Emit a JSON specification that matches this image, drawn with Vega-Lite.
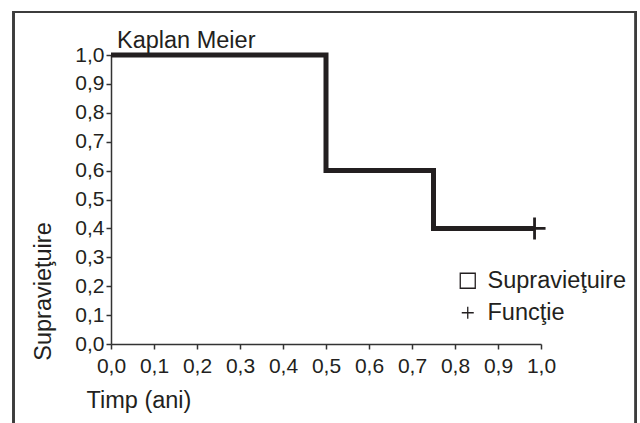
{
  "$schema": "https://vega.github.io/schema/vega-lite/v6.json",
  "width": 430,
  "height": 289,
  "autosize": {"type": "none"},
  "padding": {"left": 111, "top": 55, "right": 99, "bottom": 79},
  "background": "white",
  "title": {
    "text": "Kaplan Meier",
    "anchor": "start",
    "frame": "group",
    "dx": 6,
    "offset": 0,
    "dy": 61,
    "baseline": "alphabetic",
    "font": "Liberation Sans",
    "fontSize": 23.5,
    "fontWeight": "normal",
    "color": "#231f20"
  },
  "config": {
    "view": {"stroke": null},
    "font": "Liberation Sans",
    "axis": {
      "labelFont": "Liberation Sans",
      "labelFontSize": 21,
      "labelColor": "#231f20",
      "titleFont": "Liberation Sans",
      "titleFontSize": 23.5,
      "titleFontWeight": "normal",
      "titleColor": "#231f20",
      "domainColor": "#333333",
      "domainWidth": 1.5,
      "tickColor": "#333333",
      "tickWidth": 1.5,
      "tickSize": 5,
      "grid": false
    },
    "axisX": {
      "title": "Timp (ani)",
      "values": [0, 0.1, 0.2, 0.3, 0.4, 0.5, 0.6, 0.7, 0.8, 0.9, 1],
      "labelExpr": "replace(format(datum.value, '.1f'), '.', ',')",
      "labelPadding": 6,
      "labelFlush": false,
      "labelOverlap": false,
      "titleAnchor": "start",
      "titleAlign": "left",
      "titleX": -25,
      "titleY": 63,
      "titleBaseline": "alphabetic"
    },
    "axisY": {
      "values": [0, 0.1, 0.2, 0.3, 0.4, 0.5, 0.6, 0.7, 0.8, 0.9, 1],
      "labelExpr": "replace(format(datum.value, '.1f'), '.', ',')",
      "labelPadding": 2,
      "labelFlush": false,
      "labelOverlap": false,
      "titleAngle": 270,
      "titleAlign": "center",
      "titleBaseline": "alphabetic",
      "titleX": -61,
      "titleY": 236
    },
    "legend": {
      "labelFont": "Liberation Sans",
      "labelFontSize": 23.5,
      "labelColor": "#231f20"
    }
  },
  "data": {
    "values": [
      {"t": 0, "s": 1, "series": "Supravieţuire"},
      {"t": 0.5, "s": 0.6, "series": "Supravieţuire"},
      {"t": 0.75, "s": 0.4, "series": "Supravieţuire"},
      {"t": 0.985, "s": 0.4, "series": "Supravieţuire"},
      {"t": 0.985, "s": 0.4, "series": "Funcţie"}
    ]
  },
  "layer": [
    {
      "transform": [{"filter": "datum.series === 'Supravieţuire'"}],
      "mark": {"type": "line", "interpolate": "step-after", "color": "#231f20", "strokeWidth": 5, "strokeJoin": "miter", "strokeCap": "butt"},
      "encoding": {
        "x": {
          "field": "t", "type": "quantitative",
          "scale": {"domain": [0, 1], "nice": false, "zero": false},
          "axis": {"title": "Timp (ani)", "values": [0, 0.1, 0.2, 0.3, 0.4, 0.5, 0.6, 0.7, 0.8, 0.9, 1]}
        },
        "y": {
          "field": "s", "type": "quantitative",
          "scale": {"domain": [0, 1], "nice": false, "zero": false},
          "axis": {"title": "Supravieţuire", "values": [0, 0.1, 0.2, 0.3, 0.4, 0.5, 0.6, 0.7, 0.8, 0.9, 1]}
        }
      }
    },
    {
      "mark": {"type": "rect", "fill": null, "stroke": "#3c3c3c", "strokeWidth": 2},
      "encoding": {
        "x": {"datum": -0.2267, "type": "quantitative", "scale": {"domain": [0, 1], "nice": false}, "axis": {"title": "Timp (ani)", "values": [0, 0.1, 0.2, 0.3, 0.4, 0.5, 0.6, 0.7, 0.8, 0.9, 1]}},
        "x2": {"datum": 1.2202},
        "y": {"datum": 1.1488, "type": "quantitative", "scale": {"domain": [0, 1], "nice": false}, "axis": {"title": "Supravieţuire", "values": [0, 0.1, 0.2, 0.3, 0.4, 0.5, 0.6, 0.7, 0.8, 0.9, 1]}},
        "y2": {"datum": -0.35}
      }
    },
    {
      "transform": [{"filter": "datum.series === 'Funcţie'"}],
      "mark": {"type": "point", "filled": false, "color": "#231f20", "strokeWidth": 2.8, "size": 756, "opacity": 1},
      "encoding": {
        "x": {"field": "t", "type": "quantitative", "scale": {"domain": [0, 1], "nice": false}, "axis": {"title": "Timp (ani)", "values": [0, 0.1, 0.2, 0.3, 0.4, 0.5, 0.6, 0.7, 0.8, 0.9, 1]}},
        "y": {"field": "s", "type": "quantitative", "scale": {"domain": [0, 1], "nice": false}, "axis": {"title": "Supravieţuire", "values": [0, 0.1, 0.2, 0.3, 0.4, 0.5, 0.6, 0.7, 0.8, 0.9, 1]}},
        "shape": {
          "field": "series", "type": "nominal",
          "scale": {
            "domain": ["Supravieţuire", "Funcţie"],
            "range": ["square", "M-0.8,0L0.8,0M0,-0.8L0,0.8"]
          },
          "legend": {
            "title": null,
            "orient": "none",
            "legendX": 345,
            "legendY": 214,
            "padding": 0,
            "symbolSize": 225,
            "symbolStrokeWidth": 1.3,
            "symbolStrokeColor": "#231f20",
            "symbolFillColor": "white",
            "labelOffset": 8,
            "rowPadding": 7,
            "labelFontSize": 23.5
          }
        }
      }
    }
  ]
}
